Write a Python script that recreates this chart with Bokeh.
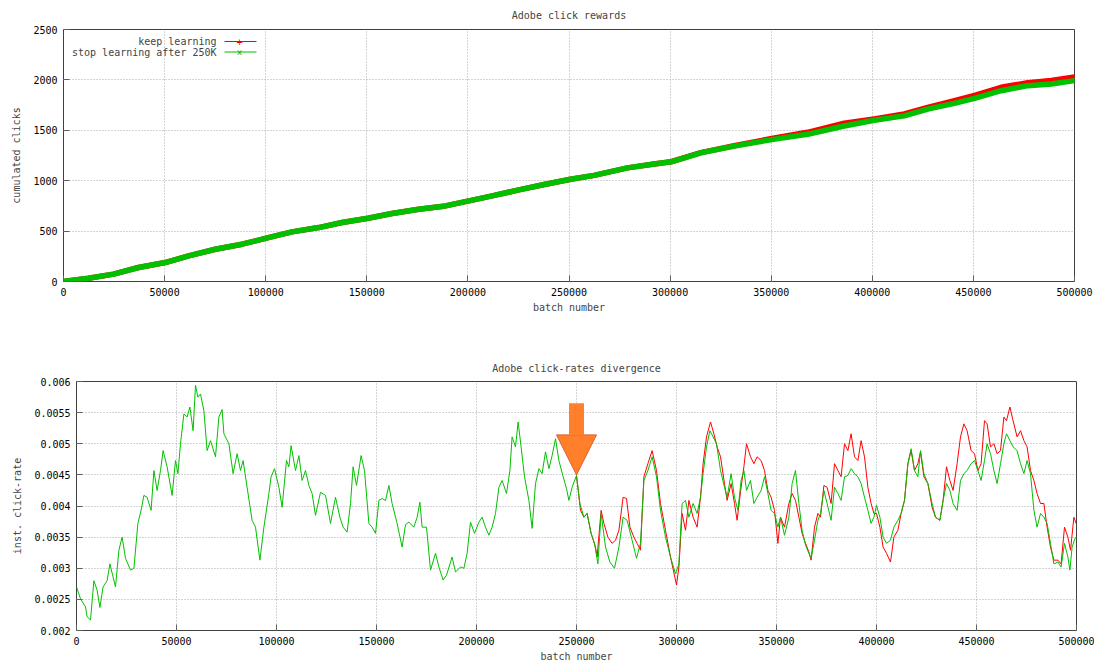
from bokeh.plotting import figure
from bokeh.layouts import column, row
from bokeh.models import (FixedTicker, PrintfTickFormatter, BasicTickFormatter,
                          Range1d, Label, BoxAnnotation, Arrow, NormalHead, Spacer)
from bokeh.embed import file_html
from bokeh.resources import INLINE

# ---------------- data: cumulated clicks (top) ----------------
cum_x = [0, 12400, 24750, 37100, 50300, 61900, 75100, 88300, 100300, 113000, 126200, 137800,
         150600, 162500, 175700, 188900, 200500, 212000, 225200, 238400, 250800, 262400, 278900,
         292100, 300500, 315200, 331700, 351000, 368000, 386100, 401000, 415800, 427400, 440600,
         451000, 463700, 476900, 488500, 500000]
cum_green = [0, 33, 73, 139, 188, 254, 320, 370, 430, 492, 535, 585, 628, 674, 717, 750, 800, 849,
             909, 965, 1015, 1053, 1127, 1165, 1187, 1277, 1343, 1410, 1460, 1543, 1600, 1643, 1710,
             1767, 1820, 1893, 1943, 1960, 1993]
cum_red = [0, 33, 73, 139, 188, 254, 320, 370, 430, 492, 535, 585, 628, 674, 717, 750, 800, 849,
           909, 965, 1015, 1053, 1127, 1165, 1188, 1279, 1347, 1422, 1480, 1570, 1613, 1662, 1728,
           1795, 1848, 1927, 1972, 1995, 2030]

# ---------------- data: instantaneous click-rate (bottom) ----------------
rate_green_x = [0, 2000, 4500, 5300, 7000, 8700, 10300, 11700, 13300, 15300, 16700, 19500, 21200,
    22800, 24500, 27000, 28700, 30700, 32300, 33700, 35300, 37300, 38700, 40300, 42000, 43300,
    45300, 47800, 49500, 50700, 52000, 53700, 55300, 56700, 58300, 59500, 60700, 62000, 63700,
    65300, 67000, 69500, 71200, 72800, 73700, 76200, 78300, 80300, 82000, 83300, 85300, 87800,
    89500, 91700, 93700, 96200, 97300, 99000, 101200, 102800, 105000, 106200, 107300, 109500,
    111200, 112800, 114500, 116200, 117800, 119500, 122000, 124500, 127000, 129500, 131700,
    133300, 135300, 137000, 138300, 140000, 142300, 144000, 146200, 147800, 149500, 151200,
    152800, 154500, 156200, 157800, 160300, 162800, 164500, 166200, 168700, 170300, 171700,
    172800, 175000, 177000, 179500, 181200, 183300, 185000, 187800, 189500, 192000, 193700,
    195300, 197000, 199000, 201200, 202800, 204500, 206200, 207800, 209500, 211200, 212800,
    215000, 216700, 217800, 219500, 220800, 222300, 224000, 226200, 227800, 229500, 231200,
    232800, 234500, 236200, 237800, 239500, 241200, 243300, 245000, 246200, 247800, 250000,
    251700, 253700, 255300, 257300, 259000, 260700, 262300, 264500, 266700, 269000, 271200,
    273300, 275300, 277800, 280000, 282000, 283700, 285700, 287800, 290000, 292000, 294500,
    297000, 299500, 301200, 302800, 304500, 306200, 308300, 310300, 312000, 313300, 315000,
    316700, 318300, 320000, 322000, 324000, 325300, 327300, 329000, 330700, 332300, 333700,
    335000, 337000, 338700, 340300, 342300, 344000, 345700, 347300, 349000, 350700, 352000,
    354000, 356200, 357800, 359500, 361200, 362800, 364500, 366200, 367300, 369000, 370700,
    372000, 373700, 375300, 377300, 379000, 380700, 382300, 384000, 385700, 387300, 389000,
    390700, 392300, 394000, 395700, 397300, 398700, 400000, 401700, 403300, 405000, 407000,
    408700, 410700, 412300, 414000, 415700, 417300, 419000, 420700, 422000, 423700, 425700,
    427800, 429500, 431700, 433300, 435000, 436700, 438300, 440300, 442000, 443700, 445300,
    447300, 449000, 450700, 452300, 454000, 455300, 457000, 458700, 460300, 462000, 463700,
    465000, 466700, 468300, 470300, 472000, 473700, 475300, 477000, 478700, 480300, 482000,
    483700, 485300, 487000, 488700, 490700, 492300, 494000, 495700, 496700, 497800, 499500]
rate_green = [0.0027, 0.00251, 0.00238, 0.00222, 0.00217, 0.0028, 0.00265, 0.00237, 0.0027, 0.0028,
    0.00307, 0.0027, 0.00329, 0.0035, 0.00316, 0.00297, 0.003, 0.00372, 0.00393, 0.00417, 0.00414,
    0.00393, 0.00457, 0.00425, 0.00457, 0.00489, 0.00463, 0.00417, 0.00473, 0.00452, 0.005,
    0.00548, 0.00543, 0.00559, 0.00521, 0.00594, 0.00575, 0.0058, 0.00553, 0.00489, 0.00505,
    0.00479, 0.00543, 0.00555, 0.00516, 0.005, 0.00452, 0.00484, 0.00457, 0.00473, 0.0043,
    0.00377, 0.00366, 0.00313, 0.00366, 0.0042, 0.00447, 0.0046, 0.0043, 0.00398, 0.00473,
    0.00463, 0.00497, 0.00457, 0.00481, 0.00441, 0.00457, 0.00433, 0.0042, 0.00385, 0.00422,
    0.00417, 0.00372, 0.00414, 0.00382, 0.00366, 0.00358, 0.00404, 0.00463, 0.00433, 0.00481,
    0.00457, 0.00372, 0.00366, 0.00356, 0.00409, 0.00412, 0.00409, 0.00433, 0.00404, 0.00372,
    0.00334, 0.0037, 0.00374, 0.00366, 0.00382, 0.00406, 0.00366, 0.00366, 0.00297, 0.00324,
    0.00302, 0.00281, 0.00289, 0.00318, 0.00294, 0.00302, 0.003, 0.00324, 0.00374, 0.00356,
    0.00374, 0.00382, 0.00366, 0.00353, 0.00366, 0.00388, 0.0043, 0.00441, 0.0042, 0.00457,
    0.00511, 0.00495, 0.00535, 0.00495, 0.00447, 0.00409, 0.00364, 0.00436, 0.0046, 0.00452,
    0.00487, 0.0046, 0.00481, 0.00508, 0.00473, 0.00447, 0.00428, 0.00409, 0.0043, 0.00449,
    0.00404, 0.00382, 0.00388, 0.00356, 0.0034, 0.00307, 0.00388, 0.00334, 0.0031, 0.003,
    0.00334, 0.00382, 0.00377, 0.00345, 0.00316, 0.0034, 0.00441, 0.00457, 0.00479, 0.00447,
    0.00393, 0.0035, 0.00318, 0.00291, 0.00307, 0.00404, 0.00409, 0.00382, 0.00404, 0.00388,
    0.00414, 0.00452, 0.00495, 0.00521, 0.00511, 0.005, 0.00457, 0.0043, 0.00414, 0.00452,
    0.00414, 0.00393, 0.00441, 0.00457, 0.00425, 0.00441, 0.00404, 0.00414, 0.00425, 0.00447,
    0.0042, 0.00393, 0.00388, 0.00366, 0.00382, 0.00353, 0.00382, 0.00436, 0.00457, 0.00404,
    0.00361, 0.00337, 0.00324, 0.00316, 0.00345, 0.00377, 0.00388, 0.00425, 0.00404, 0.00377,
    0.0043, 0.0042, 0.00409, 0.00447, 0.00449, 0.0046, 0.00452, 0.00447, 0.00436, 0.00414,
    0.00393, 0.00372, 0.00382, 0.00401, 0.00382, 0.0035, 0.0034, 0.00345, 0.00366, 0.00377,
    0.00388, 0.00409, 0.00468, 0.00492, 0.00457, 0.00447, 0.00489, 0.00452, 0.00436, 0.00404,
    0.00382, 0.00377, 0.00409, 0.00436, 0.00425, 0.00404, 0.00393, 0.00441, 0.00452, 0.00457,
    0.00468, 0.00473, 0.00457, 0.00441, 0.00473, 0.005, 0.00484, 0.00457, 0.00436, 0.00468,
    0.005, 0.00516, 0.00505, 0.00495, 0.00489, 0.00468, 0.00452, 0.00473, 0.00452, 0.00393,
    0.00366, 0.00388, 0.00382, 0.00372, 0.0034, 0.00307, 0.0031, 0.00302, 0.0034, 0.00318,
    0.00297, 0.00334, 0.0035]

rate_red_x = [250000, 252000, 253700, 255300, 257300, 259500, 260300, 262300, 263700, 265700,
    267800, 269500, 271200, 273300, 275000, 276700, 278700, 280300, 282000, 283700, 285700,
    287800, 290000, 292000, 294500, 297000, 300000, 301200, 302800, 304500, 306200, 308300,
    310300, 312000, 313300, 315000, 317000, 318700, 320300, 322000, 324000, 325300, 327300,
    329000, 330300, 332300, 333700, 335000, 337000, 338700, 340300, 342300, 344000, 345700,
    347300, 349000, 350700, 352000, 354000, 356200, 357800, 359500, 361200, 362800, 364500,
    366200, 367300, 369000, 370700, 372000, 373700, 375300, 377300, 379000, 380700, 382300,
    384000, 385700, 387300, 389000, 390700, 392300, 394000, 395700, 397300, 398700, 400000,
    401700, 403300, 405000, 407000, 408700, 410700, 412300, 414000, 415700, 417300, 419000,
    420700, 422000, 423700, 425700, 427800, 429500, 431700, 433300, 435000, 436700, 438300,
    440300, 442000, 443700, 445300, 447300, 449000, 450700, 452300, 454000, 455300, 457000,
    458700, 460300, 462000, 463700, 465000, 466700, 468300, 470300, 472000, 473700, 475300,
    477000, 478700, 480300, 482000, 483700, 485300, 487000, 488700, 490700, 492300, 494000,
    495700, 497000, 498700, 499800]
rate_red = [0.00449, 0.00393, 0.00382, 0.00388, 0.00356, 0.00334, 0.00318, 0.00393, 0.00372,
    0.0035, 0.0034, 0.00345, 0.00361, 0.00414, 0.00412, 0.00366, 0.0035, 0.0034, 0.00329, 0.00447,
    0.00468, 0.00489, 0.00457, 0.00404, 0.00361, 0.00318, 0.00273, 0.00302, 0.00388, 0.00361,
    0.00409, 0.00382, 0.00366, 0.00414, 0.00468, 0.00511, 0.00535, 0.00516, 0.00495, 0.00479,
    0.00436, 0.00409, 0.00436, 0.00404, 0.00377, 0.0043, 0.00463, 0.005, 0.00479, 0.00468,
    0.00479, 0.00473, 0.00457, 0.00425, 0.00414, 0.00393, 0.0034, 0.00382, 0.00366, 0.00404,
    0.0042, 0.00409, 0.00382, 0.00356, 0.0034, 0.00326, 0.00313, 0.00366, 0.00388, 0.00382,
    0.00433, 0.0043, 0.00404, 0.00468, 0.00457, 0.00447, 0.005, 0.00489, 0.00516, 0.00479,
    0.00473, 0.00505, 0.00479, 0.0043, 0.00404, 0.00388, 0.00388, 0.00366, 0.00334, 0.00324,
    0.0031, 0.0035, 0.00361, 0.00388, 0.00409, 0.00468, 0.00489, 0.00457, 0.00468, 0.00487,
    0.00447, 0.00436, 0.00398, 0.00382, 0.00377, 0.00409, 0.00463, 0.00441, 0.00425, 0.00468,
    0.00511, 0.00532, 0.00521, 0.00489, 0.00484, 0.00457, 0.00468, 0.00537, 0.00532, 0.00495,
    0.005, 0.00484, 0.00489, 0.00543, 0.00537, 0.00559, 0.00537, 0.00511, 0.00521, 0.00505,
    0.00495, 0.00457, 0.00441, 0.0042, 0.00404, 0.00404, 0.00366, 0.00334, 0.00313, 0.00313,
    0.00307, 0.00366, 0.0035, 0.00329, 0.00382, 0.00372]

# ticks
top_x_ticks = [0, 50000, 100000, 150000, 200000, 250000, 300000, 350000, 400000, 450000, 500000]
top_y_ticks = [0, 500, 1000, 1500, 2000, 2500]
bot_y_ticks = [0.002, 0.0025, 0.003, 0.0035, 0.004, 0.0045, 0.005, 0.0055, 0.006]

titles = ["Adobe click rewards", "Adobe click-rates divergence"]
series_names = ["keep learning", "stop learning after 250K"]
switch_batch = 250000
arrow_top, arrow_tip = 0.00565, 0.0045

RED = "#ff0000"
GREEN = "#00c000"
FONT = "DejaVu Sans Mono"
FS = "10px"
FRAME = "#404040"


def style(p, xticks, yticks, yfmt, standoff):
    p.title.text_font = FONT
    p.title.text_font_size = FS
    p.title.text_font_style = "normal"
    p.title.align = "center"
    p.title.vertical_align = "top"
    p.title.standoff = standoff
    p.outline_line_color = FRAME
    p.outline_line_width = 1
    p.background_fill_color = "white"
    p.border_fill_color = "white"
    for ax in (p.xaxis[0], p.yaxis[0]):
        ax.axis_label_text_font = FONT
        ax.axis_label_text_font_size = FS
        ax.axis_label_text_font_style = "normal"
        ax.major_label_text_font = FONT
        ax.major_label_text_font_size = FS
        ax.major_label_text_color = "black"
        ax.axis_line_color = None
        ax.major_tick_in = 6
        ax.major_tick_out = 0
        ax.major_tick_line_color = "#606060"
        ax.minor_tick_line_color = None
    p.xaxis[0].ticker = FixedTicker(ticks=xticks)
    p.yaxis[0].ticker = FixedTicker(ticks=yticks)
    p.xaxis[0].formatter = BasicTickFormatter(use_scientific=False)
    p.yaxis[0].formatter = yfmt
    p.xaxis[0].major_label_standoff = 6
    p.xaxis[0].axis_label_standoff = 3
    p.yaxis[0].major_label_standoff = 6
    p.yaxis[0].axis_label_standoff = 8
    for g in (p.xgrid[0], p.ygrid[0]):
        g.grid_line_color = "#a8a8a8"
        g.grid_line_dash = "1 2"
        g.grid_line_width = 1
    p.xgrid[0].ticker = FixedTicker(ticks=xticks)
    p.ygrid[0].ticker = FixedTicker(ticks=yticks)


# ---------------- top figure ----------------
p1 = figure(frame_width=1011, frame_height=252, min_border_left=63, min_border_right=20,
            min_border_top=29, min_border_bottom=59,
            x_range=Range1d(0, 500000), y_range=Range1d(0, 2500),
            title=titles[0], x_axis_label="batch number", y_axis_label="cumulated clicks",
            output_backend="svg", toolbar_location=None)
style(p1, top_x_ticks, top_y_ticks, BasicTickFormatter(use_scientific=False), 14)
p1.line(cum_x, cum_red, color=RED, line_width=5.5, line_join="round", line_cap="round")
p1.line(cum_x, cum_green, color=GREEN, line_width=5.5, line_join="round", line_cap="round")

# legend (gnuplot style: text right-aligned, sample to the right)
for i, (name, col, mark) in enumerate(zip(series_names, [RED, GREEN], ["+", "\u00d7"])):
    yy = 240 - 10.5 * i
    p1.add_layout(Label(x=153, y=yy, x_units="screen", y_units="screen", text=name,
                        text_font=FONT, text_font_size=FS, text_align="right",
                        text_baseline="middle"))
    p1.add_layout(BoxAnnotation(left=161, right=193, bottom=yy - 0.5, top=yy + 0.5,
                                left_units="screen", right_units="screen",
                                bottom_units="screen", top_units="screen",
                                fill_color=col, fill_alpha=1, line_color=None))
    p1.add_layout(Label(x=176, y=yy, x_units="screen", y_units="screen", text=mark,
                        text_font=FONT, text_font_size=FS, text_color=col,
                        text_align="center", text_baseline="middle"))

# ---------------- bottom figure ----------------
p2 = figure(frame_width=1000, frame_height=249, min_border_left=63, min_border_right=19,
            min_border_top=41, min_border_bottom=36,
            x_range=Range1d(0, 500000), y_range=Range1d(0.002, 0.006),
            title=titles[1], x_axis_label="batch number", y_axis_label="inst. click-rate",
            output_backend="svg", toolbar_location=None)
style(p2, top_x_ticks, bot_y_ticks, PrintfTickFormatter(format="%g"), 12)
p2.line(rate_red_x, rate_red, color=RED, line_width=1)
p2.line(rate_green_x, rate_green, color=GREEN, line_width=1)

p2.add_layout(Arrow(end=NormalHead(size=40, fill_color="#ff7f2a", line_color="#e0602a",
                                   line_width=1),
                    x_start=switch_batch, y_start=arrow_top, x_end=switch_batch, y_end=arrow_tip,
                    line_color="#ff7f2a", line_width=15))

layout = column(p1, row(Spacer(width=9, height=10), p2), spacing=0)
open("out.html", "w").write(file_html(layout, INLINE))
